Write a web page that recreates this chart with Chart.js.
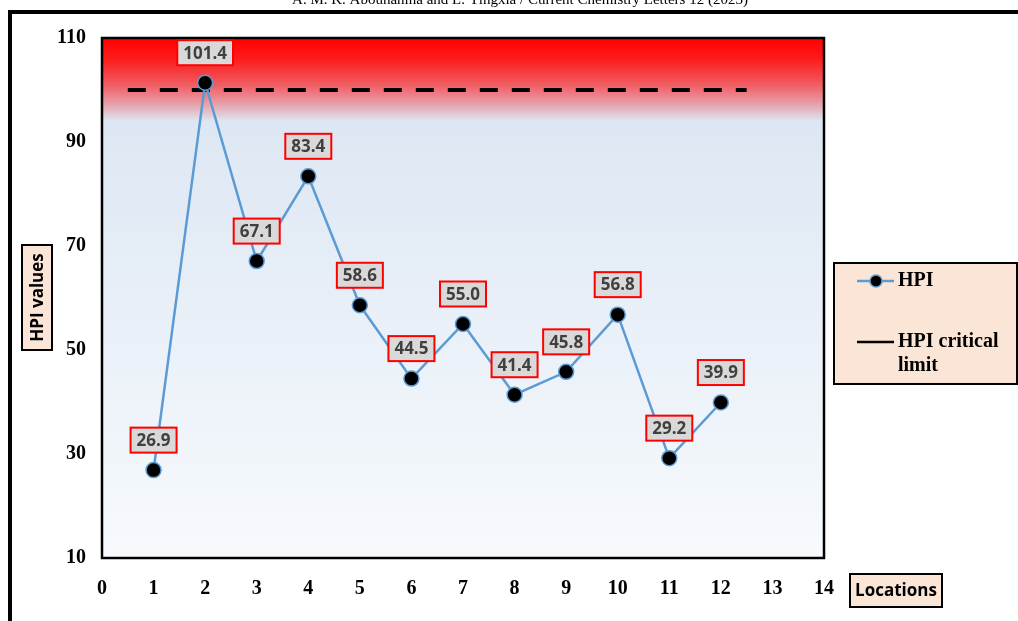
<!DOCTYPE html>
<html>
<head>
<meta charset="utf-8">
<script src="https://cdn.jsdelivr.net/npm/chart.js@4"></script>
<style>
  body { margin: 0; background: #fff; }
  canvas { display: block; }
</style>
</head>
<body>
<canvas id="chart" width="1018" height="621"></canvas>
<script>
const locations = [1, 2, 3, 4, 5, 6, 7, 8, 9, 10, 11, 12];
const hpiValues = [26.9, 101.4, 67.1, 83.4, 58.6, 44.5, 55.0, 41.4, 45.8, 56.8, 29.2, 39.9];
const criticalLimit = 100;
const criticalRange = [0.5, 12.5];
const seriesNames = ["HPI", "HPI critical limit"];
const headerText = "A. M. K. Abouhanina and L. Yingxia / Current Chemistry Letters 12 (2023)";

const serif = "'Liberation Serif', 'Times New Roman', serif";
const sans = "'Open Sans', 'Liberation Sans', sans-serif";
const peach = "#fbe5d6";

// background, frame, boxes and labels
const decor = {
  id: "decor",
  beforeDraw(chart) {
    const { ctx, chartArea: a } = chart;
    ctx.save();
    ctx.fillStyle = "#fff";
    ctx.fillRect(0, 0, chart.width, chart.height);

    ctx.fillStyle = "#000";
    ctx.font = "15px " + serif;
    ctx.textAlign = "center";
    ctx.textBaseline = "middle";
    ctx.fillText(headerText, 520, 0);

    ctx.fillRect(8, 10, 1010, 4);
    ctx.fillRect(8, 10, 4, 611);

    const g = ctx.createLinearGradient(0, a.top, 0, a.bottom);
    g.addColorStop(0, "#ff0000");
    g.addColorStop(0.04, "#fc1c1c");
    g.addColorStop(0.09, "#f05c62");
    g.addColorStop(0.13, "#e6a6b0");
    g.addColorStop(0.16, "#dde7f3");
    g.addColorStop(1, "#f7fafd");
    ctx.fillStyle = g;
    ctx.fillRect(a.left, a.top, a.right - a.left, a.bottom - a.top);
    ctx.restore();
  },
  afterDraw(chart) {
    const { ctx, chartArea: a } = chart;
    ctx.save();
    ctx.strokeStyle = "#000";
    ctx.lineWidth = 2.5;
    ctx.strokeRect(a.left, a.top, a.right - a.left, a.bottom - a.top);

    // y title box
    ctx.fillStyle = peach;
    ctx.lineWidth = 2;
    ctx.fillRect(22, 245, 30, 105);
    ctx.strokeRect(22, 245, 30, 105);
    ctx.save();
    ctx.translate(37, 297.5);
    ctx.rotate(-Math.PI / 2);
    ctx.fillStyle = "#000";
    ctx.font = "bold 17px " + sans;
    ctx.textAlign = "center";
    ctx.textBaseline = "middle";
    ctx.fillText("HPI values", 0, 1);
    ctx.restore();

    // x title box
    ctx.fillStyle = peach;
    ctx.fillRect(850, 574, 92, 33);
    ctx.strokeRect(850, 574, 92, 33);
    ctx.fillStyle = "#000";
    ctx.font = "bold 17px " + sans;
    ctx.textAlign = "center";
    ctx.textBaseline = "middle";
    ctx.fillText("Locations", 896, 591);

    // legend
    ctx.fillStyle = peach;
    ctx.fillRect(834, 263, 183, 121);
    ctx.strokeRect(834, 263, 183, 121);
    ctx.strokeStyle = "#5b9bd5";
    ctx.lineWidth = 2.5;
    ctx.beginPath();
    ctx.moveTo(857, 281);
    ctx.lineTo(894, 281);
    ctx.stroke();
    ctx.beginPath();
    ctx.arc(876, 281, 6, 0, Math.PI * 2);
    ctx.fillStyle = "#000";
    ctx.fill();
    ctx.lineWidth = 1.5;
    ctx.stroke();
    ctx.strokeStyle = "#000";
    ctx.lineWidth = 2.5;
    ctx.beginPath();
    ctx.moveTo(857, 342);
    ctx.lineTo(894, 342);
    ctx.stroke();
    ctx.fillStyle = "#000";
    ctx.font = "bold 20px " + serif;
    ctx.textAlign = "left";
    ctx.textBaseline = "middle";
    ctx.fillText(seriesNames[0], 898, 281);
    const words = seriesNames[1].split(" ");
    ctx.fillText(words.slice(0, 2).join(" "), 898, 342);
    ctx.fillText(words.slice(2).join(" "), 898, 366);

    // data labels
    const meta = chart.getDatasetMeta(0);
    ctx.font = "bold 17px " + sans;
    ctx.textAlign = "center";
    ctx.textBaseline = "middle";
    meta.data.forEach((pt, i) => {
      const txt = hpiValues[i].toFixed(1);
      const w = ctx.measureText(txt).width + 12;
      const h = 25;
      const cx = pt.x, cy = pt.y - 30;
      ctx.fillStyle = "#d9d9d9";
      ctx.fillRect(cx - w / 2, cy - h / 2, w, h);
      ctx.strokeStyle = "#ff0000";
      ctx.lineWidth = 2;
      ctx.strokeRect(cx - w / 2, cy - h / 2, w, h);
      ctx.fillStyle = "#404040";
      ctx.fillText(txt, cx, cy + 1);
    });
    ctx.restore();
  }
};

new Chart(document.getElementById("chart"), {
  type: "line",
  data: {
    datasets: [
      {
        label: seriesNames[0],
        data: locations.map((x, i) => ({ x, y: hpiValues[i] })),
        borderColor: "#5b9bd5",
        borderWidth: 2.5,
        pointRadius: 7.5,
        pointBackgroundColor: "#000",
        pointBorderColor: "#5b9bd5",
        pointBorderWidth: 1.5,
        tension: 0,
        order: 0
      },
      {
        label: seriesNames[1],
        data: criticalRange.map((x) => ({ x, y: criticalLimit })),
        borderColor: "#000",
        borderWidth: 4,
        borderDash: [18, 14],
        pointRadius: 0,
        order: 1
      }
    ]
  },
  options: {
    responsive: false,
    animation: false,
    layout: { padding: { left: 0, right: 194, top: 38, bottom: 0 } },
    plugins: { legend: { display: false }, tooltip: { enabled: false } },
    scales: {
      x: {
        type: "linear",
        min: 0,
        max: 14,
        grid: { display: false },
        border: { display: false },
        ticks: {
          stepSize: 1,
          padding: 11,
          color: "#000",
          font: { family: serif, size: 20, weight: "bold" }
        },
        afterFit: (s) => { s.height = 63; }
      },
      y: {
        min: 10,
        max: 110,
        grid: { display: false },
        border: { display: false },
        ticks: {
          stepSize: 20,
          padding: 8,
          color: "#000",
          font: { family: serif, size: 20, weight: "bold" }
        },
        afterFit: (s) => { s.width = 102; }
      }
    }
  },
  plugins: [decor]
});
</script>
</body>
</html>
